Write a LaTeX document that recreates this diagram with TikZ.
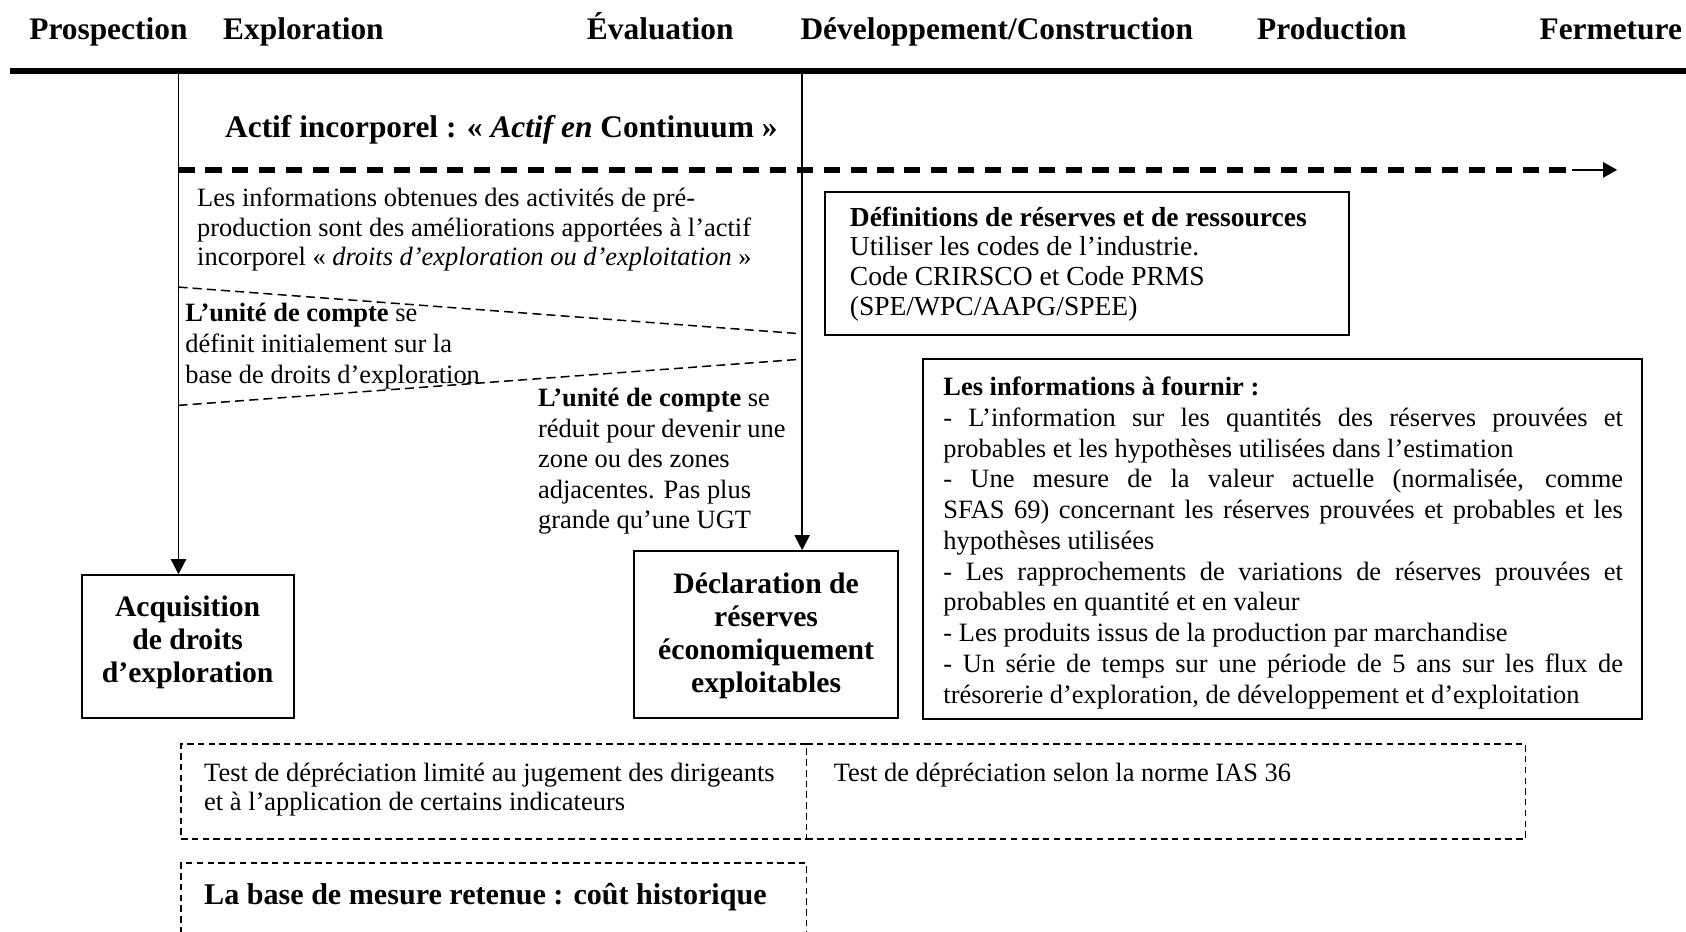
\documentclass[tikz,border=0pt]{standalone}
\usepackage{fontspec}
\setmainfont{Liberation Serif}
\usetikzlibrary{arrows.meta}
\begin{document}
\begin{tikzpicture}[x=0.5pt,y=-0.5pt,
  hdr/.style={font=\fontsize{14.6}{17}\selectfont\bfseries, anchor=base, inner sep=0pt},
  txt/.style={font=\fontsize{12.3}{13.8}\selectfont, anchor=base west, inner sep=0pt, align=left},
  sbox/.style={draw, line width=0.9pt, inner sep=0pt},
  dbox/.style={draw, line width=0.7pt, dash pattern=on 3pt off 2pt, inner sep=0pt},
  btitle/.style={font=\fontsize{13.8}{15.4}\selectfont\bfseries, anchor=base, inner sep=0pt, align=center},
  vline/.style={line width=0.9pt, -{Triangle[length=7pt,width=7pt]}},
  funnel/.style={line width=0.7pt, dash pattern=on 4.2pt off 2.4pt},
]
\useasboundingbox (0,0) rectangle (1568,866);

% phase headers
\node[hdr] (h1) at (100.8,36.7) {Prospection};
\node[hdr] (h2) at (282.2,36.7) {Exploration};
\node[hdr] (h3) at (614,36.7) {Évaluation};
\node[hdr] (h4) at (927,36.7) {Développement/Construction};
\node[hdr] (h5) at (1238.7,36.7) {Production};
\node[hdr] (h6) at (1498,36.7) {Fermeture};

% time line
\coordinate (tl) at (9,66);
\coordinate (tr) at (1568,66);
\draw[line width=2.6pt] (tl) -- (tr);

% boxes
\node[sbox, minimum width=98.5pt, minimum height=66.5pt] (acq) at (174.5,601.5) {};
\node[sbox, minimum width=122.5pt, minimum height=77.7pt] (decl) at (712.5,590.3) {};
\node[sbox, minimum width=243.5pt, minimum height=66.65pt] (defs) at (1011,245) {};
\node[sbox, minimum width=334.5pt, minimum height=167.5pt] (info) at (1192.5,501.5) {};
\node[dbox, minimum width=290.75pt, minimum height=44.25pt] (test1) at (459.25,736.25) {};
\node[dbox, minimum width=334.3pt, minimum height=44.25pt] (test2) at (1084.3,736.25) {};
\node[dbox, minimum width=290.75pt, minimum height=48.75pt] (base) at (459.25,851.25) {};

% vertical arrows
\coordinate (vAtop) at (166,66);
\coordinate (vBtop) at (746,66);
\draw[vline] (vAtop) -- (vAtop |- acq.north);
\draw[vline] (vBtop) -- (vBtop |- decl.north);

% actif incorporel
\node[txt, font=\fontsize{14.6}{17}\selectfont\bfseries] (actif) at (209,127.5)
  {Actif incorporel : « \textit{Actif en} Continuum »};
\coordinate (da) at (166,158);
\coordinate (db) at (1462,158);
\coordinate (dc) at (1504,158);
\draw[line width=2.6pt, dash pattern=on 7.5pt off 5pt] (da) -- (db);
\draw[line width=1pt, -{Triangle[length=6.5pt,width=7pt]}] (db) -- (dc);

% (multi-line nodes: base = baseline of last line)
\node[txt, font=\fontsize{12.3}{13.75}\selectfont] (obt) at (183,247)
  {Les informations obtenues des activités de pré-\\production sont des améliorations apportées à l’actif\\incorporel « \textit{droits d’exploration ou d’exploitation} »};

% funnel
\coordinate (f1a) at (166,267);
\coordinate (f1b) at (746,310.5);
\coordinate (f2a) at (166,377);
\coordinate (f2b) at (746,334);
\draw[funnel] (f1a) -- (f1b);
\draw[funnel] (f2a) -- (f2b);

\node[txt, font=\fontsize{12.3}{14.5}\selectfont] (u1) at (172,357)
  {\textbf{L’unité de compte} se\\définit initialement sur la\\base de droits d’exploration};
\node[txt, font=\fontsize{12.3}{14.15}\selectfont] (u2) at (500,491.5)
  {\textbf{L’unité de compte} se\\réduit pour devenir une\\zone ou des zones\\adjacentes. Pas plus\\grande qu’une UGT};

% box titles
\node[btitle] (acqt) at (174.5,634.6) {Acquisition\\de droits\\d’exploration};
\node[btitle] (declt) at (712.5,644) {Déclaration de\\réserves\\économiquement\\exploitables};

% definitions
\node[txt, font=\fontsize{12.8}{13.8}\selectfont] (defst) at (790,293)
  {\textbf{Définitions de réserves et de ressources}\\Utiliser les codes de l’industrie.\\Code CRIRSCO et Code PRMS\\(SPE/WPC/AAPG/SPEE)};

% informations a fournir
\node[txt, font=\fontsize{12.3}{14.3}\selectfont] (infot) at (877,654)
  {\textbf{Les informations à fournir :}\\
   \makebox[316pt][s]{- L’information sur les quantités des réserves prouvées et}\\
   probables et les hypothèses utilisées dans l’estimation\\
   \makebox[316pt][s]{- Une mesure de la valeur actuelle (normalisée, comme}\\
   \makebox[316pt][s]{SFAS 69) concernant les réserves prouvées et probables et les}\\
   hypothèses utilisées\\
   \makebox[316pt][s]{- Les rapprochements de variations de réserves prouvées et}\\
   probables en quantité et en valeur\\
   - Les produits issus de la production par marchandise\\
   \makebox[316pt][s]{- Un série de temps sur une période de 5 ans sur les flux de}\\
   trésorerie d’exploration, de développement et d’exploitation};

% bottom boxes text
\node[txt, font=\fontsize{12.3}{13.5}\selectfont] (t1) at (189.5,754)
  {Test de dépréciation limité au jugement des dirigeants\\et à l’application de certains indicateurs};
\node[txt] (t2) at (775,727) {Test de dépréciation selon la norme IAS 36};
\node[txt, font=\fontsize{14}{16}\selectfont\bfseries] (t3) at (189.5,841) {La base de mesure retenue : coût historique};
\end{tikzpicture}
\end{document}
